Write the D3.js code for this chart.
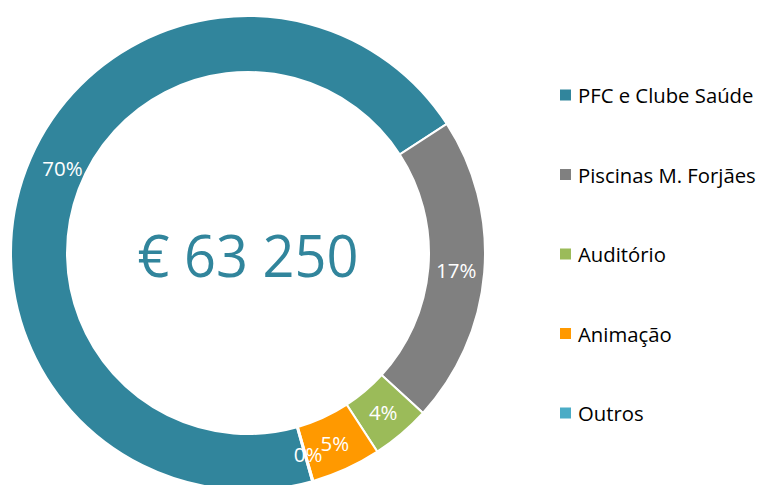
<!DOCTYPE html>
<html><head><meta charset="utf-8">
<script src="https://cdn.jsdelivr.net/npm/d3@7"></script>
<style>body{margin:0;background:#fff}svg{display:block}</style>
</head><body>
<svg id="c" width="763" height="485"></svg>
<script>
const categories = ["PFC e Clube Saúde", "Piscinas M. Forjães", "Auditório", "Animação", "Outros"];
const values = [44400, 13250, 2550, 3000, 50];
const pctLabels = ["70%", "17%", "4%", "5%", "0%"];
const colors = ["#31859C", "#808080", "#9BBB59", "#FF9900", "#4BACC6"];
const totalLabel = "€ 63 250";

const svg = d3.select("#c");
const font = "'Open Sans', 'Liberation Sans', sans-serif";
const cx = 248, cy = 253, rOut = 237, rIn = 181;
const start = 164.3 * Math.PI / 180;
const pie = d3.pie().sort(null).value(d => d).startAngle(start).endAngle(start + 2 * Math.PI);
const arcs = pie(values);
const arc = d3.arc().innerRadius(rIn).outerRadius(rOut);
const g = svg.append("g").attr("transform", `translate(${cx},${cy})`);
g.selectAll("path").data(arcs).join("path")
  .attr("d", arc).attr("fill", (d, i) => colors[i])
  .attr("stroke", "#fff").attr("stroke-width", 2);
const labArc = d3.arc().innerRadius(rIn).outerRadius(rOut);
const offs = [[10,-11],[0,0],[0,0],[0,0],[3,0]];
g.selectAll("text.l").data(arcs).join("text").attr("class", "l")
  .attr("x", (d, i) => labArc.centroid(d)[0] + offs[i][0])
  .attr("y", (d, i) => labArc.centroid(d)[1] + offs[i][1])
  .attr("text-anchor", "middle").attr("dominant-baseline", "central")
  .attr("fill", "#fff").attr("font-family", font).attr("font-size", 20.5)
  .text((d, i) => pctLabels[i]);
g.append("text").attr("x", 0).attr("y", 1).attr("text-anchor", "middle")
  .attr("dominant-baseline", "central").attr("fill", "#31859C")
  .attr("font-family", font).attr("font-size", 59)
  .attr("textLength", 221).attr("lengthAdjust", "spacingAndGlyphs").text(totalLabel);

const ly = d3.scalePoint().domain(categories).range([95, 413]);
const lg = svg.append("g");
lg.selectAll("rect").data(categories).join("rect")
  .attr("x", 560).attr("y", d => ly(d) - 5.5).attr("width", 11).attr("height", 11)
  .attr("fill", (d, i) => colors[i]);
lg.selectAll("text").data(categories).join("text")
  .attr("x", 578).attr("y", d => ly(d)).attr("dominant-baseline", "central")
  .attr("fill", "#000").attr("font-family", font).attr("font-size", 20.3).text(d => d);
</script>
</body></html>
